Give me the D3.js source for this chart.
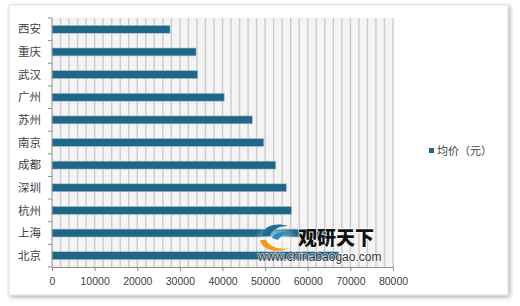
<!DOCTYPE html>
<html><head><meta charset="utf-8">
<script src="https://cdn.jsdelivr.net/npm/d3@7/dist/d3.min.js"></script>
<style>
html,body{margin:0;padding:0;background:#fff;}
svg{display:block;}
</style></head>
<body>
<svg id="chart" width="520" height="306"></svg>
<script>
const categories = ["西安","重庆","武汉","广州","苏州","南京","成都","深圳","杭州","上海","北京"];
const values = [27700, 33800, 34200, 40400, 47000, 49700, 52500, 55000, 56200, 64800, 67300];
const seriesName = "均价（元）";
const xTicks = [0,10000,20000,30000,40000,50000,60000,70000,80000];
const minorStep = 2000;

const svg = d3.select("#chart");
const defs = svg.append("defs");
const f = defs.append("filter").attr("id","sh").attr("x","-5%").attr("y","-5%").attr("width","110%").attr("height","112%");
f.append("feDropShadow").attr("dx",1.5).attr("dy",1.5).attr("stdDeviation",2.2).attr("flood-color","#000").attr("flood-opacity",0.35);
const g = defs.append("radialGradient").attr("id","glow");
g.append("stop").attr("offset","0%").attr("stop-color","#fff").attr("stop-opacity",0.75);
g.append("stop").attr("offset","100%").attr("stop-color","#fff").attr("stop-opacity",0);

svg.append("rect").attr("x",9).attr("y",5).attr("width",499).attr("height",290)
  .attr("fill","#fff").attr("stroke","#d9d9d9").attr("stroke-width",0.8).attr("filter","url(#sh)");

const x = d3.scaleLinear().domain([0,80000]).range([52,393]);
const y = d3.scaleBand().domain(categories).range([18,267]).paddingInner(0.65).paddingOuter(0.325);

// plot background
svg.append("rect").attr("x",x(0)).attr("y",18).attr("width",x(80000)-x(0)).attr("height",249).attr("fill","#f4f4f4");

// minor gridlines
const grid = d3.range(minorStep, 80000+1, minorStep);
svg.append("g").selectAll("line").data(grid).join("line")
  .attr("x1",d=>x(d)).attr("x2",d=>x(d)).attr("y1",18).attr("y2",267)
  .attr("stroke","#cbcbcb").attr("stroke-width",1.4);

// bars
svg.append("g").selectAll("rect").data(categories).join("rect")
  .attr("x",x(0)).attr("y",d=>y(d)).attr("height",y.bandwidth())
  .attr("width",(d,i)=>x(values[i])-x(0))
  .attr("fill","#1f6687").attr("stroke","#a9c7d6").attr("stroke-width",0.6);

// y axis
const step = y.step();
const yb = d3.range(categories.length+1).map(i=>18+i*step);
const ya = svg.append("g");
ya.append("line").attr("x1",x(0)).attr("x2",x(0)).attr("y1",18).attr("y2",267).attr("stroke","#8c8c8c").attr("stroke-width",1);
ya.selectAll("line.t").data(yb).join("line").attr("class","t")
  .attr("x1",x(0)-4).attr("x2",x(0)).attr("y1",d=>d).attr("y2",d=>d).attr("stroke","#8c8c8c");
ya.selectAll("text").data(categories).join("text")
  .attr("x",41).attr("y",d=>y(d)+y.bandwidth()/2).attr("dy","0.36em")
  .attr("text-anchor","end").attr("font-family","'Noto Sans CJK SC', sans-serif").attr("font-size",11.5)
  .attr("fill","#404040").text(d=>d);

// x axis
const xa = svg.append("g").attr("transform","translate(0,267)")
  .call(d3.axisBottom(x).tickValues(xTicks).tickSize(4).tickPadding(7).tickFormat(d3.format("d")));
xa.select(".domain").attr("stroke","#8c8c8c");
xa.selectAll(".tick line").attr("stroke","#8c8c8c");
xa.selectAll("text").attr("font-family","'Liberation Sans', Arial, sans-serif").attr("font-size",10.5).attr("fill","#404040");

// legend
svg.append("rect").attr("x",429).attr("y",148).attr("width",5).attr("height",5).attr("fill","#1f6687");
svg.append("text").attr("x",437).attr("y",151).attr("dy","0.36em")
  .attr("font-family","'Noto Sans CJK SC', sans-serif").attr("font-size",11).attr("fill","#404040").text(seriesName);

// watermark
const wm = svg.append("g");
wm.append("ellipse").attr("cx",276).attr("cy",239).attr("rx",22).attr("ry",16).attr("fill","url(#glow)");
wm.append("path").attr("d","M262,236 C262,226 276,222 288,226 C280,226 272,229 270,236 Z").attr("fill","#1f6f95");
wm.append("path").attr("d","M260,240 C262,250 276,254 290,248 C282,250 270,248 266,240 Z").attr("fill","#f39a1e");
wm.append("path").attr("d","M272,238 C274,232 284,230 292,234 C286,234 280,236 278,240 Z").attr("fill","#2a8cc0");
wm.append("text").attr("x",298).attr("y",245).attr("font-family","'Noto Sans CJK SC', sans-serif").attr("font-weight","900")
  .attr("font-size",19).attr("fill","#111").attr("stroke","#fff").attr("stroke-width",1.2).attr("paint-order","stroke").text("观研天下");
wm.append("text").attr("x",258).attr("y",261).attr("font-family","'Liberation Sans', Arial, sans-serif")
  .attr("font-size",12).attr("fill","#333").attr("stroke","#fff").attr("stroke-width",1.5).attr("stroke-opacity",0.7).attr("paint-order","stroke").text("www.chinabaogao.com");
</script>
</body></html>
